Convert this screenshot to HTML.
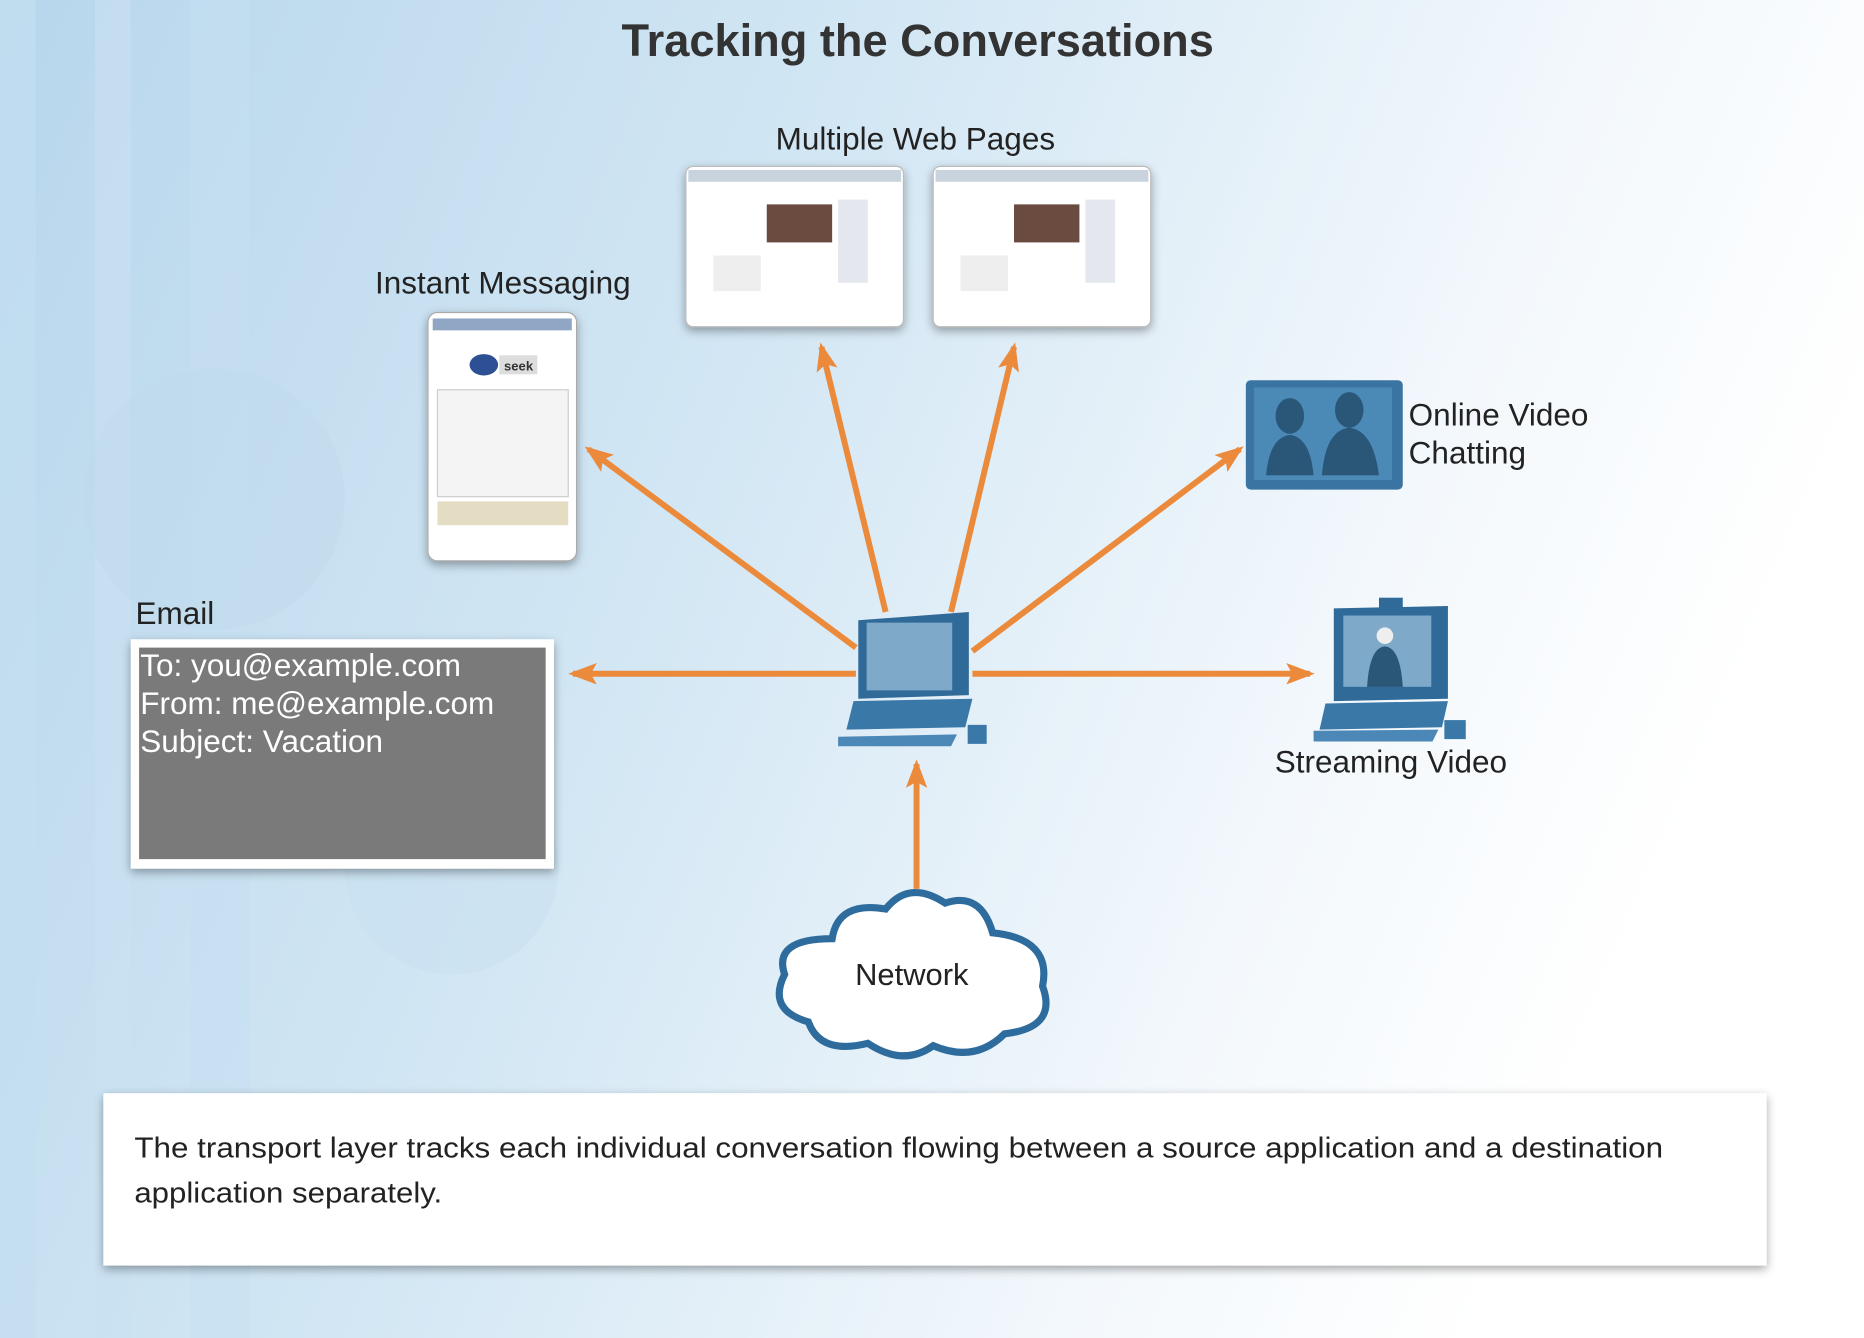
<!DOCTYPE html>
<html><head><meta charset="utf-8"><style>
html,body{margin:0;padding:0;width:1864px;height:1338px;overflow:hidden;background:#fff}
svg{display:block;font-family:"Liberation Sans",Arial,sans-serif}
</style></head><body>
<svg width="1864" height="1338" viewBox="0 0 1568 1126" preserveAspectRatio="none">
<defs>
<linearGradient id="bg" x1="0" y1="0" x2="1" y2="0.3">
<stop offset="0" stop-color="#b7d6ec"/><stop offset="0.45" stop-color="#d3e7f4"/><stop offset="0.8" stop-color="#f3f8fc"/><stop offset="1" stop-color="#ffffff"/>
</linearGradient>
<marker id="ah" markerWidth="24" markerHeight="18" refX="20" refY="9" orient="auto" markerUnits="userSpaceOnUse"><path d="M0,0 L24,9 L0,18 L5,9 z" fill="#ec8a3c"/></marker>
<filter id="sh" x="-10%" y="-10%" width="120%" height="130%"><feDropShadow dx="0" dy="3" stdDeviation="4" flood-color="#000" flood-opacity="0.35"/></filter>
</defs>
<rect width="1568" height="1126" fill="url(#bg)"/>
<rect x="0" y="0" width="30" height="1126" fill="#c3def1" opacity="0.7"/>
<rect x="80" y="0" width="30" height="1126" fill="#c9e1f2" opacity="0.6"/>
<rect x="160" y="0" width="50" height="1126" fill="#c6dff1" opacity="0.5"/>
<circle cx="180" cy="420" r="110" fill="#bfd9ec" opacity="0.4"/>
<circle cx="380" cy="730" r="90" fill="#c6def0" opacity="0.4"/>

<text x="772" y="47" text-anchor="middle" font-size="38" font-weight="bold" fill="#333">Tracking the Conversations</text>
<text x="770" y="126" text-anchor="middle" font-size="26.5" fill="#222">Multiple Web Pages</text>
<text x="423" y="247" text-anchor="middle" font-size="26.5" fill="#222">Instant Messaging</text>
<text x="114" y="525" font-size="26.5" fill="#222">Email</text>
<text x="1185" y="358" font-size="26.5" fill="#222">Online Video</text>
<text x="1185" y="390" font-size="26.5" fill="#222">Chatting</text>
<text x="1170" y="650" text-anchor="middle" font-size="26.5" fill="#222">Streaming Video</text>

<!-- web pages -->
<g filter="url(#sh)">
<rect x="577" y="140" width="183" height="135" rx="6" fill="#fff" stroke="#bbb"/>
<rect x="785" y="140" width="183" height="135" rx="6" fill="#fff" stroke="#bbb"/>
</g>
<rect x="579" y="143" width="179" height="10" fill="#c9d3de"/>
<rect x="787" y="143" width="179" height="10" fill="#c9d3de"/>
<rect x="645" y="172" width="55" height="32" fill="#6b4a40"/>
<rect x="853" y="172" width="55" height="32" fill="#6b4a40"/>
<rect x="705" y="168" width="25" height="70" fill="#e4e8ee"/>
<rect x="913" y="168" width="25" height="70" fill="#e4e8ee"/>
<rect x="600" y="215" width="40" height="30" fill="#eee"/>
<rect x="808" y="215" width="40" height="30" fill="#eee"/>

<!-- IM -->
<rect x="360" y="263" width="125" height="209" rx="8" fill="#fff" stroke="#aaa" filter="url(#sh)"/>
<rect x="364" y="268" width="117" height="10" fill="#8fa7c4"/>
<ellipse cx="407" cy="307" rx="12" ry="9" fill="#2d4f93"/>
<rect x="420" y="299" width="32" height="16" fill="#ddd"/>
<text x="424" y="312" font-size="11" font-weight="bold" fill="#333">seek</text>
<rect x="368" y="328" width="110" height="90" fill="#f4f4f4" stroke="#ccc"/>
<rect x="368" y="422" width="110" height="20" fill="#e5dcc4"/>

<!-- email -->
<rect x="110" y="538" width="356" height="193" fill="#fff" filter="url(#sh)"/>
<rect x="117" y="545" width="342" height="178" fill="#7a7a7a"/>
<text x="118" y="569" font-size="26.5" fill="#fff">To: you@example.com</text>
<text x="118" y="601" font-size="26.5" fill="#fff">From: me@example.com</text>
<text x="118" y="633" font-size="26.5" fill="#fff">Subject: Vacation</text>

<!-- arrows -->
<g stroke="#ec8a3c" stroke-width="5" fill="none" marker-end="url(#ah)">
<line x1="745" y1="515" x2="691" y2="292"/>
<line x1="800" y1="515" x2="853" y2="292"/>
<line x1="720" y1="545" x2="495" y2="378"/>
<line x1="818" y1="548" x2="1043" y2="378"/>
<line x1="720" y1="567" x2="482" y2="567"/>
<line x1="818" y1="567" x2="1102" y2="567"/>
<line x1="771" y1="748" x2="771" y2="643"/>
</g>

<!-- central computer -->
<g>
<polygon points="722,522 815,515 815,585 722,588" fill="#2f6a99"/>
<rect x="729" y="524" width="72" height="57" fill="#7fa9c9"/>
<polygon points="718,590 818,588 812,612 712,614" fill="#3a78a8"/>
<polygon points="705,620 805,618 800,628 705,628" fill="#4b88b8"/>
<rect x="814" y="610" width="16" height="16" fill="#3a78a8"/>
</g>

<!-- video chat -->
<rect x="1048" y="320" width="132" height="92" rx="4" fill="#3a74a2"/>
<rect x="1055" y="326" width="116" height="78" fill="#4b89b6"/>
<ellipse cx="1085" cy="350" rx="12" ry="15" fill="#2a5678"/>
<path d="M1065,400 Q1068,368 1085,366 Q1102,368 1105,400 z" fill="#2a5678"/>
<ellipse cx="1135" cy="345" rx="12" ry="15" fill="#2a5678"/>
<path d="M1112,400 Q1115,362 1135,360 Q1155,362 1160,400 z" fill="#2a5678"/>

<!-- streaming computer -->
<polygon points="1122,512 1218,510 1218,588 1122,590" fill="#2f6a99"/>
<rect x="1130" y="518" width="74" height="60" fill="#7fa9c9"/>
<rect x="1160" y="503" width="20" height="10" fill="#2f6a99"/>
<circle cx="1165" cy="535" r="7" fill="#eee"/>
<path d="M1150,578 Q1152,545 1165,544 Q1178,545 1180,578 z" fill="#2a5678"/>
<polygon points="1115,592 1218,590 1213,612 1110,614" fill="#3a78a8"/>
<polygon points="1105,615 1210,614 1205,624 1105,624" fill="#4b88b8"/>
<rect x="1215" y="606" width="18" height="16" fill="#3a78a8"/>

<!-- cloud -->
<path d="M700,790 Q705,758 745,765 Q765,740 795,760 Q825,750 835,785 Q885,790 877,830 Q890,865 845,870 Q820,895 785,880 Q760,898 730,878 Q690,888 680,860 Q645,850 660,820 Q650,790 700,790 z" fill="#fff" stroke="#2e6c9e" stroke-width="6"/>
<text x="767" y="829" text-anchor="middle" font-size="26" fill="#222">Network</text>

<!-- bottom box -->
<rect x="87" y="920" width="1399" height="145" fill="#fff" filter="url(#sh)"/>
<text x="113" y="974" font-size="24" fill="#222" textLength="1286" lengthAdjust="spacingAndGlyphs">The transport layer tracks each individual conversation flowing between a source application and a destination</text>
<text x="113" y="1012" font-size="24" fill="#222" textLength="259" lengthAdjust="spacingAndGlyphs">application separately.</text>
</svg>
</body></html>
